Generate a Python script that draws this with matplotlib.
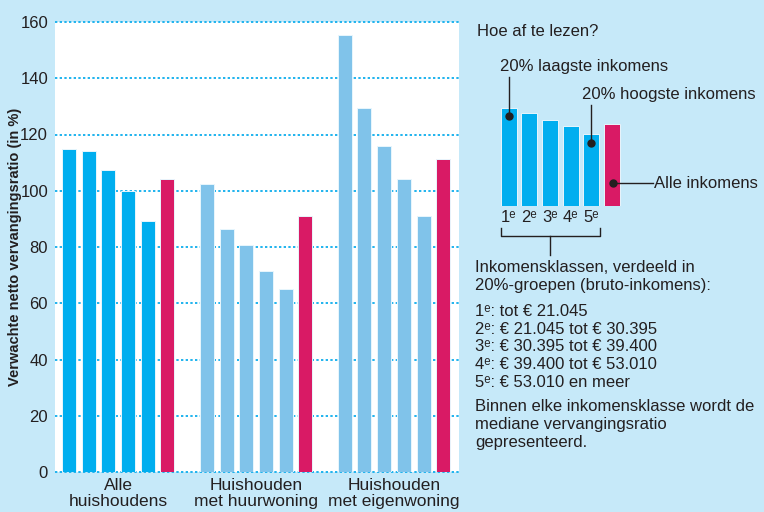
import matplotlib
matplotlib.use('Agg')
import matplotlib.pyplot as plt
import numpy as np

plt.rcParams['font.family'] = ['Liberation Sans', 'DejaVu Sans']

# data
groups = ['Alle\nhuishoudens', 'Huishouden\nmet huurwoning', 'Huishouden\nmet eigenwoning']
alle = [114.8, 114.2, 107.4, 99.9, 89.3, 104.2]
huur = [102.5, 86.4, 80.8, 71.5, 65.0, 91.0]
eigen = [155.5, 129.3, 116.0, 104.3, 91.1, 111.4]
yticks = [0, 20, 40, 60, 80, 100, 120, 140, 160]

# explainer mini bars (relative heights)
mini = [98, 93, 86, 80, 72, 82]
mini_labels = ['1ᵉ', '2ᵉ', '3ᵉ', '4ᵉ', '5ᵉ']
klassen = ['1ᵉ: tot € 21.045',
           '2ᵉ: € 21.045 tot € 30.395',
           '3ᵉ: € 30.395 tot € 39.400',
           '4ᵉ: € 39.400 tot € 53.010',
           '5ᵉ: € 53.010 en meer']

bg = '#c6e9f9'
blue = '#00aeef'
lblue = '#80c3ea'
pink = '#d91a65'
grid = '#1fb3ee'
txt = '#231f20'
fs = 12

W, H = 764, 512
fig = plt.figure(figsize=(7.64, 5.12), dpi=100, facecolor=bg)

def fax(x0, y0, x1, y1):
    # axes from pixel box (top-left origin)
    return fig.add_axes([x0 / W, 1 - y1 / H, (x1 - x0) / W, (y1 - y0) / H])

ax = fax(55, 22, 459, 472)
ax.set_facecolor('white')
for sp in ax.spines.values():
    sp.set_visible(False)

for gi, (vals, c) in enumerate([(alle, blue), (huur, lblue), (eigen, lblue)]):
    xs = np.arange(6) + gi * 7
    cols = [c] * 5 + [pink]
    ax.bar(xs, vals, width=0.71, color=cols, edgecolor='#e8f6fd', linewidth=0.7, zorder=3)

for y in yticks:
    ax.axhline(y, color=grid, lw=1.4, ls=(0, (1.2, 1.2)), zorder=1, clip_on=False)

ax.set_xlim(-0.71, 19.8)
ax.set_ylim(0, 160)
ax.set_yticks(yticks)
ax.set_xticks([2.5, 9.5, 16.5])
ax.set_xticklabels(groups, fontsize=12.5, color=txt, linespacing=1.15)
ax.tick_params(axis='both', length=0, colors=txt, labelsize=12)
ax.tick_params(axis='x', labelsize=12.5, pad=4)
ax.tick_params(axis='y', pad=5)
ax.set_ylabel('Verwachte netto vervangingsratio (in %)', fontsize=10.5, fontweight='bold', color=txt)
ax.yaxis.set_label_coords(-0.082, 0.5)

# explainer panel
mx = fax(498.3, 106, 622.5, 206)
mx.axis('off')
mx.patch.set_alpha(0)
mx.bar(np.arange(6), mini, width=0.77, color=[blue] * 5 + [pink],
       edgecolor='#e8f6fd', linewidth=0.7)
mx.set_xlim(-0.5, 5.5)
mx.set_ylim(0, 100)

ov = fig.add_axes([0, 0, 1, 1], zorder=5)
ov.set_xlim(0, W)
ov.set_ylim(H, 0)
ov.axis('off')
ov.patch.set_alpha(0)

ov.text(477, 32, 'Hoe af te lezen?', fontsize=fs, color=txt, va='center', ha='left')

for i, lab in enumerate(mini_labels):
    ov.text(508.7 + i * 20.7, 218, lab, fontsize=fs, color=txt, ha='center', va='center')

# annotations
ov.text(500, 66, '20% laagste inkomens', fontsize=fs, color=txt, va='center', ha='left')
ov.plot([509, 509], [77, 116], color=txt, lw=1)
ov.plot(509, 116, 'o', color=txt, ms=5)
ov.text(582, 95, '20% hoogste inkomens', fontsize=fs, color=txt, va='center', ha='left')
ov.plot([591, 591], [105, 143], color=txt, lw=1)
ov.plot(591, 143, 'o', color=txt, ms=5)
ov.plot([613, 653], [183, 183], color=txt, lw=1)
ov.plot(613, 183, 'o', color=txt, ms=5)
ov.text(654, 183, 'Alle inkomens', fontsize=fs, color=txt, va='center', ha='left')

# bracket
ov.plot([501, 501, 600, 600], [228, 236, 236, 228], color=txt, lw=1)
ov.plot([550, 550], [236, 255], color=txt, lw=1)

lines = [(268, 'Inkomensklassen, verdeeld in'), (285.5, '20%-groepen (bruto-inkomens):')]
lines += [(311.7 + i * 17.6, s) for i, s in enumerate(klassen)]
lines += [(406.7, 'Binnen elke inkomensklasse wordt de'), (424.7, 'mediane vervangingsratio'),
          (442.7, 'gepresenteerd.')]
for y, s in lines:
    ov.text(475, y, s, fontsize=fs, color=txt, va='center', ha='left')

fig.savefig('out.png', dpi=100, facecolor=bg)
